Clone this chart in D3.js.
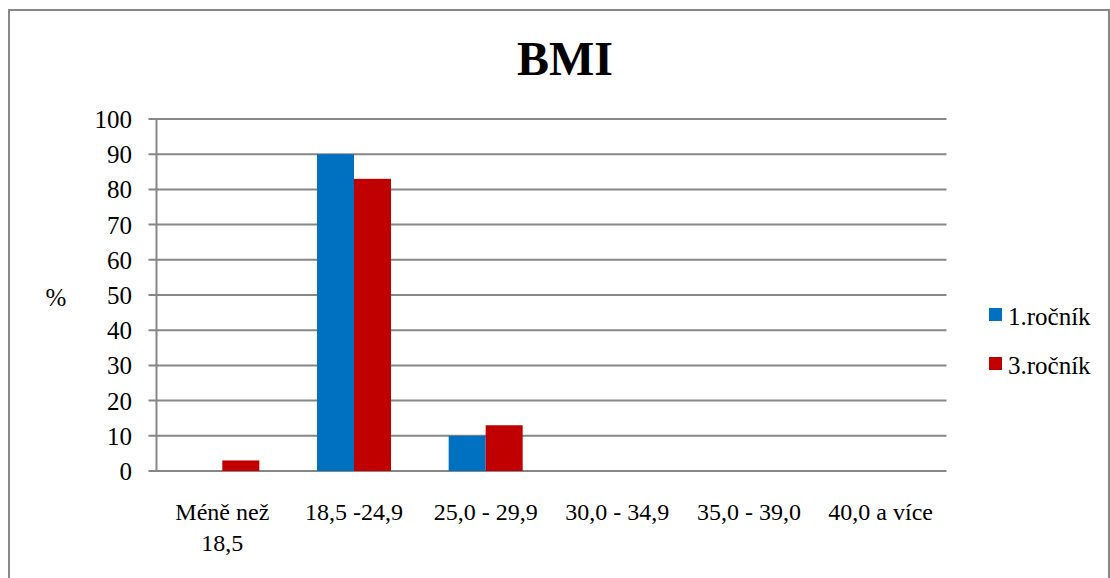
<!DOCTYPE html>
<html>
<head>
<meta charset="utf-8">
<script src="https://cdn.jsdelivr.net/npm/d3@7"></script>
<style>
  html, body { margin: 0; padding: 0; background: #fff; }
  svg { display: block; }
</style>
</head>
<body>
<svg id="chart" width="1110" height="578"></svg>
<script>
// BMI categories and share of students (%) per year group
const categories = [["Méně než", "18,5"], ["18,5 -24,9"], ["25,0 - 29,9"], ["30,0 - 34,9"], ["35,0 - 39,0"], ["40,0 a více"]];
const seriesNames = ["1.ročník", "3.ročník"];
const rocnik1 = [0, 90, 10, 0, 0, 0];
const rocnik3 = [3, 83, 13, 0, 0, 0];
const yTicks = [0, 10, 20, 30, 40, 50, 60, 70, 80, 90, 100];
const colors = ["#0070C0", "#C00000"];

const FONT = "'Liberation Serif', 'Times New Roman', 'Liberation Sans', sans-serif";
const svg = d3.select("#chart").style("font-family", FONT);
const plot = { left: 156.5, right: 946.5, top: 119, bottom: 471 };

// outer frame
svg.append("rect")
  .attr("x", 9).attr("y", 10)
  .attr("width", 1100).attr("height", 600)
  .attr("fill", "none").attr("stroke", "#888").attr("stroke-width", 2);

// title
svg.append("text")
  .attr("x", 565).attr("y", 75)
  .attr("text-anchor", "middle")
  .attr("font-size", 48).attr("font-weight", "bold")
  .text("BMI");

const keys = categories.map((c, i) => i);
const x = d3.scaleBand().domain(keys).range([plot.left, plot.right]).paddingInner(0).paddingOuter(0);
const y = d3.scaleLinear().domain([0, 100]).range([plot.bottom, plot.top]);

// horizontal gridlines with tick marks on the left
svg.append("g").selectAll("line")
  .data(yTicks)
  .join("line")
  .attr("x1", plot.left - 8).attr("x2", plot.right)
  .attr("y1", d => y(d)).attr("y2", d => y(d))
  .attr("stroke", "#878787").attr("stroke-width", 2);

// vertical axis line
svg.append("line")
  .attr("x1", plot.left).attr("x2", plot.left)
  .attr("y1", plot.top).attr("y2", plot.bottom)
  .attr("stroke", "#878787").attr("stroke-width", 2);

// y tick labels
svg.append("g").selectAll("text")
  .data(yTicks)
  .join("text")
  .attr("x", 132).attr("y", d => y(d) + 9)
  .attr("text-anchor", "end")
  .attr("font-size", 25)
  .text(d => d);

// y axis title
svg.append("text")
  .attr("x", 56).attr("y", 306)
  .attr("text-anchor", "middle")
  .attr("font-size", 25)
  .text("%");

// bars, paired around each category centre
const barW = 37;
[rocnik1, rocnik3].forEach((vals, si) => {
  svg.append("g").selectAll("rect")
    .data(vals.map((v, i) => ({ i, v })).filter(d => d.v > 0))
    .join("rect")
    .attr("x", d => x(d.i) + x.bandwidth() / 2 - barW + si * barW)
    .attr("y", d => y(d.v))
    .attr("width", barW)
    .attr("height", d => y(0) - y(d.v))
    .attr("fill", colors[si]);
});

// category labels
const xl = svg.append("g");
categories.forEach((lines, i) => {
  const cx = x(i) + x.bandwidth() / 2;
  const t = xl.append("text")
    .attr("x", cx)
    .attr("y", 520)
    .attr("text-anchor", "middle")
    .attr("font-size", 24);
  lines.forEach((ln, k) => {
    t.append("tspan")
      .attr("x", cx)
      .attr("dy", k === 0 ? 0 : 31)
      .text(ln);
  });
});

// legend
const legend = svg.append("g");
seriesNames.forEach((name, i) => {
  const ly = 308 + i * 49;
  legend.append("rect")
    .attr("x", 989).attr("y", ly)
    .attr("width", 13).attr("height", 13)
    .attr("fill", colors[i]);
  legend.append("text")
    .attr("x", 1008).attr("y", ly + 17)
    .attr("font-size", 25)
    .text(name);
});
</script>
</body>
</html>
